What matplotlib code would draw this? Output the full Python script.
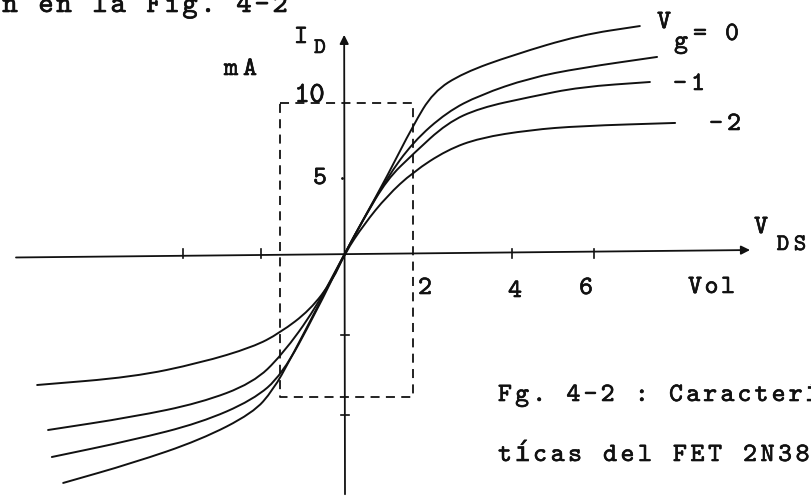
import matplotlib.pyplot as plt
import matplotlib.patheffects as pe
from matplotlib.path import Path
from matplotlib.patches import PathPatch

plt.rcParams['font.family'] = ['cmtt10', 'DejaVu Sans Mono']

# drain characteristics of the FET: V_DS (V) against I_D (mA), one curve per gate voltage
vds_g0 = [-6.71, -5.05, -3.45, -2.19, -1.71, -1.31, -0.6, 0, 0.45, 1.0, 1.62, 2.1, 2.81, 4.0, 5.6, 7.02]
id_g0 = [-15.33, -14.0, -12.47, -10.67, -9.13, -7.13, -3.3, 0, 2.3, 5.1, 8.5, 10.73, 12.0, 13.2, 14.53, 15.13]

vds_g05 = [-6.98, -5.05, -3.45, -2.19, -1.5, -0.7, 0, 0.45, 1.0, 1.62, 2.43, 3.21, 4.4, 5.6, 7.43]
id_g05 = [-13.6, -12.47, -11.33, -9.8, -8.13, -4.0, 0, 2.3, 5.0, 7.4, 9.4, 10.53, 11.67, 12.33, 13.07]

vds_g1 = [-7.07, -5.05, -3.45, -2.19, -1.5, -0.7, 0, 0.45, 1.0, 1.62, 2.43, 3.21, 4.4, 5.6, 7.26]
id_g1 = [-11.8, -10.93, -10.0, -8.67, -6.8, -3.7, 0, 2.3, 4.9, 6.6, 8.67, 9.67, 10.4, 11.07, 11.4]

vds_g2 = [-7.33, -5.05, -3.45, -2.19, -1.55, -0.83, -0.29, 0, 0.45, 1.0, 1.62, 2.43, 3.21, 4.4, 5.6, 7.86]
id_g2 = [-8.8, -8.27, -7.33, -6.27, -5.33, -3.8, -1.8, 0, 1.9, 3.8, 5.4, 6.87, 7.67, 8.2, 8.47, 8.67]

curves = [(vds_g0, id_g0), (vds_g05, id_g05), (vds_g1, id_g1), (vds_g2, id_g2)]

# dashed operating window
box_v = [-1.55, 1.62]
box_i = [-9.6, 10.0]

# hand drawn tick marks on the axes
xticks_v = [-3.86, -2.0, 3.98, 5.93]
yticks_i = [-5.47, -10.8]

# scale: 42 px per volt, 15 px per mA, origin at pixel (345, 253)
W, H = 812, 497
x0, y0, sx, sy = 345, 253, 42.0, 15.0

fig = plt.figure(figsize=(W / 100, H / 100), dpi=100)
ax = fig.add_axes([0, 0, 1, 1])
ax.set_xlim(-x0 / sx, (W - x0) / sx)
ax.set_ylim((y0 - H) / sy, y0 / sy)
ax.axis('off')

ink = '#111111'
bold = [pe.withStroke(linewidth=0.45, foreground=ink)]


def typed(px, py, s, size, pitch=None):
    # typewriter text: one character per fixed step, py is the baseline in pixels
    if pitch is None:
        pitch = size * 0.95
    for k, ch in enumerate(s):
        if ch == ' ':
            continue
        fig.text((px + k * pitch) / W, 1 - py / H, ch, fontsize=size, color=ink,
                 ha='center', va='baseline', path_effects=bold)


def smooth(xs, ys):
    # corner-rounded path through the read points
    pts = list(zip(xs, ys))
    verts = [pts[0], ((pts[0][0] + pts[1][0]) / 2, (pts[0][1] + pts[1][1]) / 2)]
    codes = [Path.MOVETO, Path.LINETO]
    for k in range(1, len(pts) - 1):
        nx = ((pts[k][0] + pts[k + 1][0]) / 2, (pts[k][1] + pts[k + 1][1]) / 2)
        verts += [pts[k], nx]
        codes += [Path.CURVE3, Path.CURVE3]
    verts.append(pts[-1])
    codes.append(Path.LINETO)
    return Path(verts, codes)


# axes with arrows
ax.annotate('', xy=(9.71, 0.2), xytext=(-7.9, -0.3),
            arrowprops=dict(arrowstyle='-|>', lw=1.3, color=ink, mutation_scale=13))
ax.annotate('', xy=(-0.02, 14.73), xytext=(0, (y0 - H) / sy),
            arrowprops=dict(arrowstyle='-|>', lw=1.3, color=ink, mutation_scale=13))

for v in xticks_v:
    ax.plot([v, v], [-0.3, 0.3], color=ink, lw=1.2)
for i in yticks_i:
    ax.plot([-0.1, 0.1], [i, i], color=ink, lw=1.2)
ax.plot([-0.08], [5.0], marker='.', color=ink, ms=2)

# dashed window
ax.plot([box_v[0], box_v[1], box_v[1], box_v[0], box_v[0]],
        [box_i[1], box_i[1], box_i[0], box_i[0], box_i[1]],
        color=ink, lw=1.3, dashes=(5, 3.5))

for v, i in curves:
    ax.add_patch(PathPatch(smooth(v, i), fill=False, edgecolor=ink, lw=1.4,
                           capstyle='round', joinstyle='round'))

# running text above the figure
typed(10, 12, 'n en la Fig. 4-2', 21, pitch=18)

# axis labels
typed(301, 43, 'I', 19)
typed(320, 53, 'D', 16)
typed(231, 75, 'mA', 19, pitch=19)
typed(302, 102, '10', 21, pitch=15)
typed(320, 184, '5', 19)
typed(425, 294, '2', 19)
typed(515, 297, '4', 19)
typed(586, 294, '6', 19)
typed(695, 293, 'Vol', 19, pitch=16.5)
typed(761, 233, 'V', 19)
typed(783, 250, 'DS', 17, pitch=17)

# gate voltage labels
typed(664, 28, 'V', 19)
typed(681, 48, 'g', 19)
typed(700, 40, '=', 19)
typed(732, 40, '0', 19)
typed(680, 90, '-1', 19, pitch=18)
typed(716, 130, '-2', 19, pitch=18)

# caption
typed(505, 401, 'Fg. 4-2 : Caracterí', 19, pitch=17.1)
typed(505, 461, 'tícas del FET 2N381', 19, pitch=17.5)

fig.savefig('out.png', dpi=100, facecolor='white')
